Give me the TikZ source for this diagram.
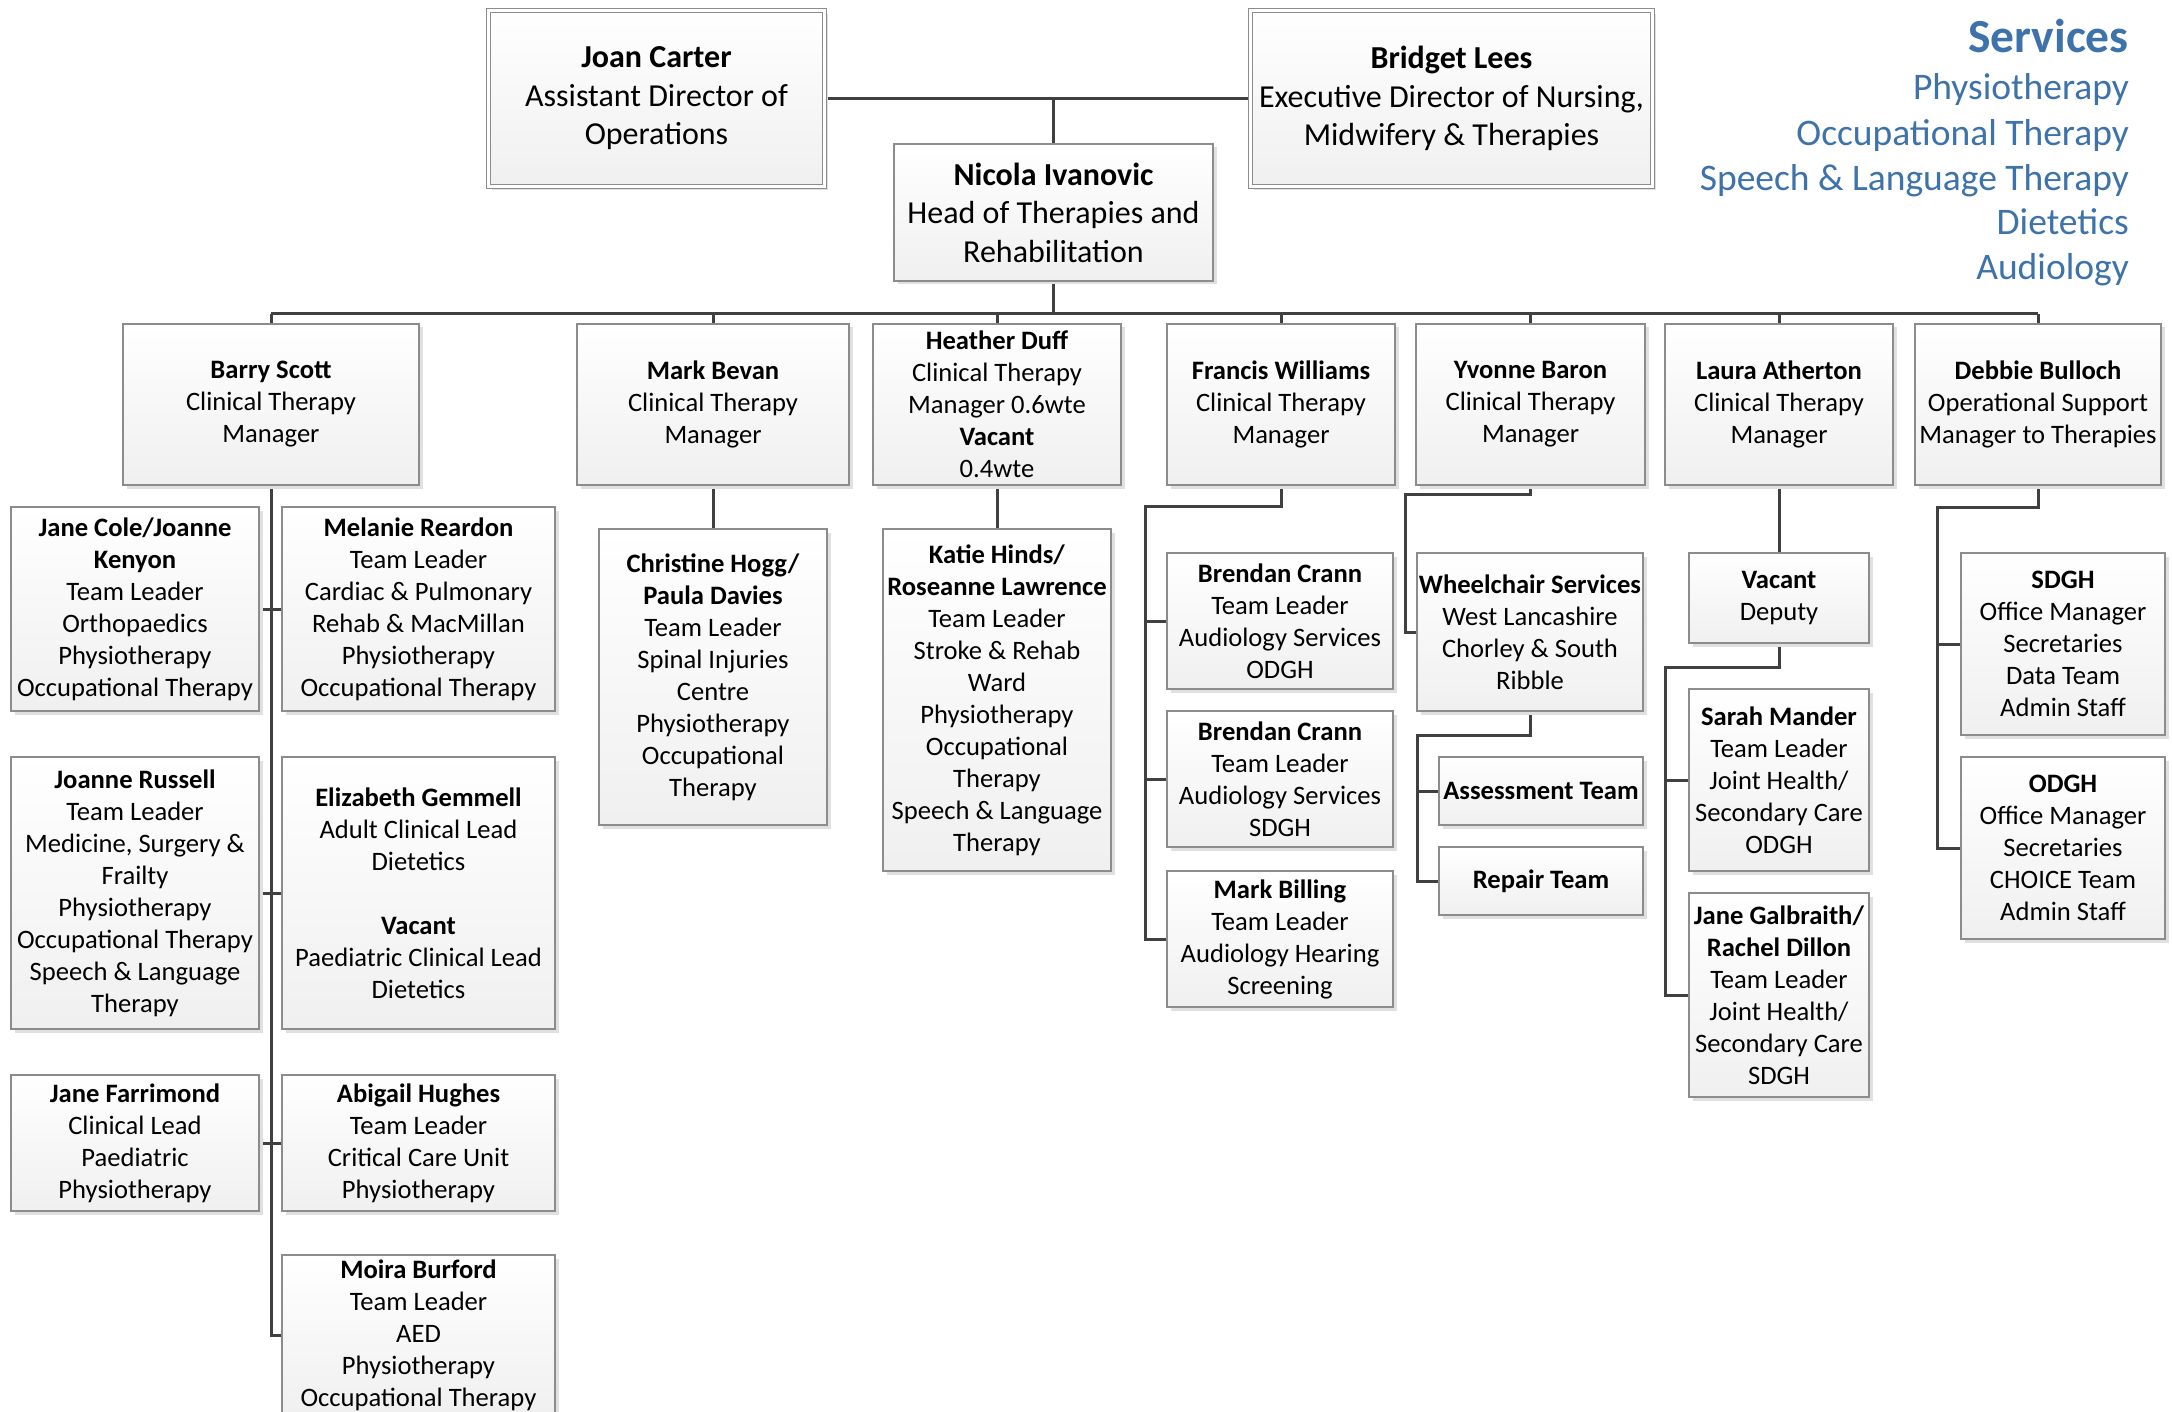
\documentclass[tikz,border=0pt]{standalone}
\usepackage{fontspec}
\setmainfont{Carlito}
\usetikzlibrary{shadows,backgrounds}
\definecolor{lineC}{HTML}{404040}
\definecolor{bordC}{HTML}{8C8C8C}
\definecolor{ttlC}{HTML}{3D72AB}
\newcommand\fsA{\fontsize{26.6}{32}\selectfont}
\newcommand\fsB{\fontsize{32}{38.5}\selectfont}
\newcommand\fsC{\fontsize{37.5}{45}\selectfont}
\newcommand\fsD{\fontsize{47.5}{56}\selectfont}
\newcommand\bx[6]{\node[box, minimum width=#4pt, minimum height=#5pt] (#1) at (#2,#3) {#6};}
\begin{document}
\begin{tikzpicture}[x=1pt,y=-1pt,
  box/.style={draw=bordC, line width=1.3pt, top color=white, bottom color=black!6, inner sep=0pt, align=center, font=\fsA,
    drop shadow={shadow xshift=3.5pt, shadow yshift=-3.5pt, fill=black!12, opacity=1}},
  topbox/.style={box, font=\fsB, double=white, double distance=2.5pt, line width=1.1pt},
  conn/.style={draw=lineC, line width=3pt, line join=miter},
  ttl/.style={text=ttlC, anchor=base east, inner sep=0pt, font=\fsC}]
\useasboundingbox (0,0) rectangle (2172,1412);

% title
\node[ttl, font=\fsD\bfseries] (t0) at (2129,53) {Services};
\node[ttl] (t1) at (2129,100) {Physiotherapy};
\node[ttl] (t2) at (2129,146) {Occupational Therapy};
\node[ttl] (t3) at (2129,191) {Speech \& Language Therapy};
\node[ttl] (t4) at (2129,235) {Dietetics};
\node[ttl] (t5) at (2129,280) {Audiology};

% top level
\node[topbox, minimum width=336pt, minimum height=176pt] (joan) at (656.5,98.5) {\textbf{Joan Carter}\\Assistant Director of\\Operations};
\node[topbox, minimum width=402pt, minimum height=176pt] (bridget) at (1451.5,98.5) {\textbf{Bridget Lees}\\Executive Director of Nursing,\\Midwifery \& Therapies};
\node[box, font=\fsB, minimum width=319pt, minimum height=137pt] (nicola) at (1053.5,212.5) {\textbf{Nicola Ivanovic}\\Head of Therapies and\\Rehabilitation};

% managers
\bx{barry}{271}{404.5}{296}{161}{\textbf{Barry Scott}\\Clinical Therapy\\Manager}
\bx{mbevan}{713}{404.5}{272}{161}{\textbf{Mark Bevan}\\Clinical Therapy\\Manager}
\bx{heather}{997}{404.5}{248}{161}{\textbf{Heather Duff}\\Clinical Therapy\\Manager 0.6wte\\\textbf{Vacant}\\0.4wte}
\bx{francis}{1281}{404.5}{228}{161}{\textbf{Francis Williams}\\Clinical Therapy\\Manager}
\bx{yvonne}{1530.5}{404.5}{229}{161}{\textbf{Yvonne Baron}\\Clinical Therapy\\Manager}
\bx{laura}{1779}{404.5}{228}{161}{\textbf{Laura Atherton}\\Clinical Therapy\\Manager}
\bx{debbie}{2038}{404.5}{246}{161}{\textbf{Debbie Bulloch}\\Operational Support\\Manager to Therapies}

% Barry's teams
\bx{janecole}{135}{609}{248}{204}{\textbf{Jane Cole/Joanne}\\\textbf{Kenyon}\\Team Leader\\Orthopaedics\\Physiotherapy\\Occupational Therapy}
\bx{melanie}{418.5}{609}{273}{204}{\textbf{Melanie Reardon}\\Team Leader\\Cardiac \& Pulmonary\\Rehab \& MacMillan\\Physiotherapy\\Occupational Therapy}
\bx{jrussell}{135}{893}{248}{272}{\textbf{Joanne Russell}\\Team Leader\\Medicine, Surgery \&\\Frailty\\Physiotherapy\\Occupational Therapy\\Speech \& Language\\Therapy}
\bx{gemmell}{418.5}{893}{273}{272}{\textbf{Elizabeth Gemmell}\\Adult Clinical Lead\\Dietetics\\[32pt]\textbf{Vacant}\\Paediatric Clinical Lead\\Dietetics}
\bx{farrimond}{135}{1143}{248}{136}{\textbf{Jane Farrimond}\\Clinical Lead\\Paediatric\\Physiotherapy}
\bx{hughes}{418.5}{1143}{273}{136}{\textbf{Abigail Hughes}\\Team Leader\\Critical Care Unit\\Physiotherapy}
\bx{moira}{418.5}{1335}{273}{160}{\textbf{Moira Burford}\\Team Leader\\AED\\Physiotherapy\\Occupational Therapy}

% Mark Bevan / Heather Duff
\bx{hogg}{713}{677}{228}{296}{\textbf{Christine Hogg/}\\\textbf{Paula Davies}\\Team Leader\\Spinal Injuries\\Centre\\Physiotherapy\\Occupational\\Therapy}
\bx{hinds}{997}{700}{228}{342}{\textbf{Katie Hinds/}\\\textbf{Roseanne Lawrence}\\Team Leader\\Stroke \& Rehab\\Ward\\Physiotherapy\\Occupational\\Therapy\\Speech \& Language\\Therapy}

% Francis
\bx{crannA}{1280}{621}{226}{136}{\textbf{Brendan Crann}\\Team Leader\\Audiology Services\\ODGH}
\bx{crannB}{1280}{779}{226}{136}{\textbf{Brendan Crann}\\Team Leader\\Audiology Services\\SDGH}
\bx{billing}{1280}{939}{226}{136}{\textbf{Mark Billing}\\Team Leader\\Audiology Hearing\\Screening}

% Yvonne
\bx{wheel}{1530}{632}{226}{158}{\textbf{Wheelchair Services}\\West Lancashire\\Chorley \& South\\Ribble}
\bx{assess}{1541}{791}{204}{68}{\textbf{Assessment Team}}
\bx{repair}{1541}{881}{204}{68}{\textbf{Repair Team}}

% Laura
\bx{vacant}{1779}{598}{180}{90}{\textbf{Vacant}\\Deputy}
\bx{mander}{1779}{780}{180}{182}{\textbf{Sarah Mander}\\Team Leader\\Joint Health/\\Secondary Care\\ODGH}
\bx{galbraith}{1779}{995}{180}{204}{\textbf{Jane Galbraith/}\\\textbf{Rachel Dillon}\\Team Leader\\Joint Health/\\Secondary Care\\SDGH}

% Debbie
\bx{sdgh}{2063}{644}{204}{182}{\textbf{SDGH}\\Office Manager\\Secretaries\\Data Team\\Admin Staff}
\bx{odgh}{2063}{848}{204}{182}{\textbf{ODGH}\\Office Manager\\Secretaries\\CHOICE Team\\Admin Staff}

% connectors
\begin{scope}[on background layer]
\fill[white] (0,0) rectangle (2172,1412);
\coordinate (bus) at (0,314);
\draw[conn] (joan.east) -- (bridget.west);
\draw[conn] (nicola.north |- joan.east) -- (nicola.north);
\draw[conn] (nicola.south) -- (nicola.south |- bus);
\draw[conn] (barry.north |- bus) -- (debbie.north |- bus);
\foreach \m in {barry,mbevan,heather,francis,yvonne,laura,debbie}
  \draw[conn] (\m.north |- bus) -- (\m.north);

\draw[conn] (barry.south) -- (barry.south |- moira.west) -- (moira.west);
\draw[conn] (janecole.east) -- (melanie.west);
\draw[conn] (jrussell.east) -- (gemmell.west);
\draw[conn] (farrimond.east) -- (hughes.west);

\draw[conn] (mbevan.south) -- (hogg.north);
\draw[conn] (heather.south) -- (hinds.north);

\coordinate (fA) at (1145,506);
\draw[conn] (francis.south) -- (francis.south |- fA) -- (fA) -- (fA |- billing.west) -- (billing.west);
\draw[conn] (fA |- crannA.west) -- (crannA.west);
\draw[conn] (fA |- crannB.west) -- (crannB.west);

\coordinate (yA) at (1405,494);
\draw[conn] (yvonne.south) -- (yvonne.south |- yA) -- (yA) -- (yA |- wheel.west) -- (wheel.west);
\coordinate (wA) at (1417,735);
\draw[conn] (wheel.south) -- (wheel.south |- wA) -- (wA) -- (wA |- repair.west) -- (repair.west);
\draw[conn] (wA |- assess.west) -- (assess.west);

\draw[conn] (laura.south) -- (vacant.north);
\coordinate (vA) at (1665,667);
\draw[conn] (vacant.south) -- (vacant.south |- vA) -- (vA) -- (vA |- galbraith.west) -- (galbraith.west);
\draw[conn] (vA |- mander.west) -- (mander.west);

\coordinate (dA) at (1937,507);
\draw[conn] (debbie.south) -- (debbie.south |- dA) -- (dA) -- (dA |- odgh.west) -- (odgh.west);
\draw[conn] (dA |- sdgh.west) -- (sdgh.west);
\end{scope}
\end{tikzpicture}
\end{document}
